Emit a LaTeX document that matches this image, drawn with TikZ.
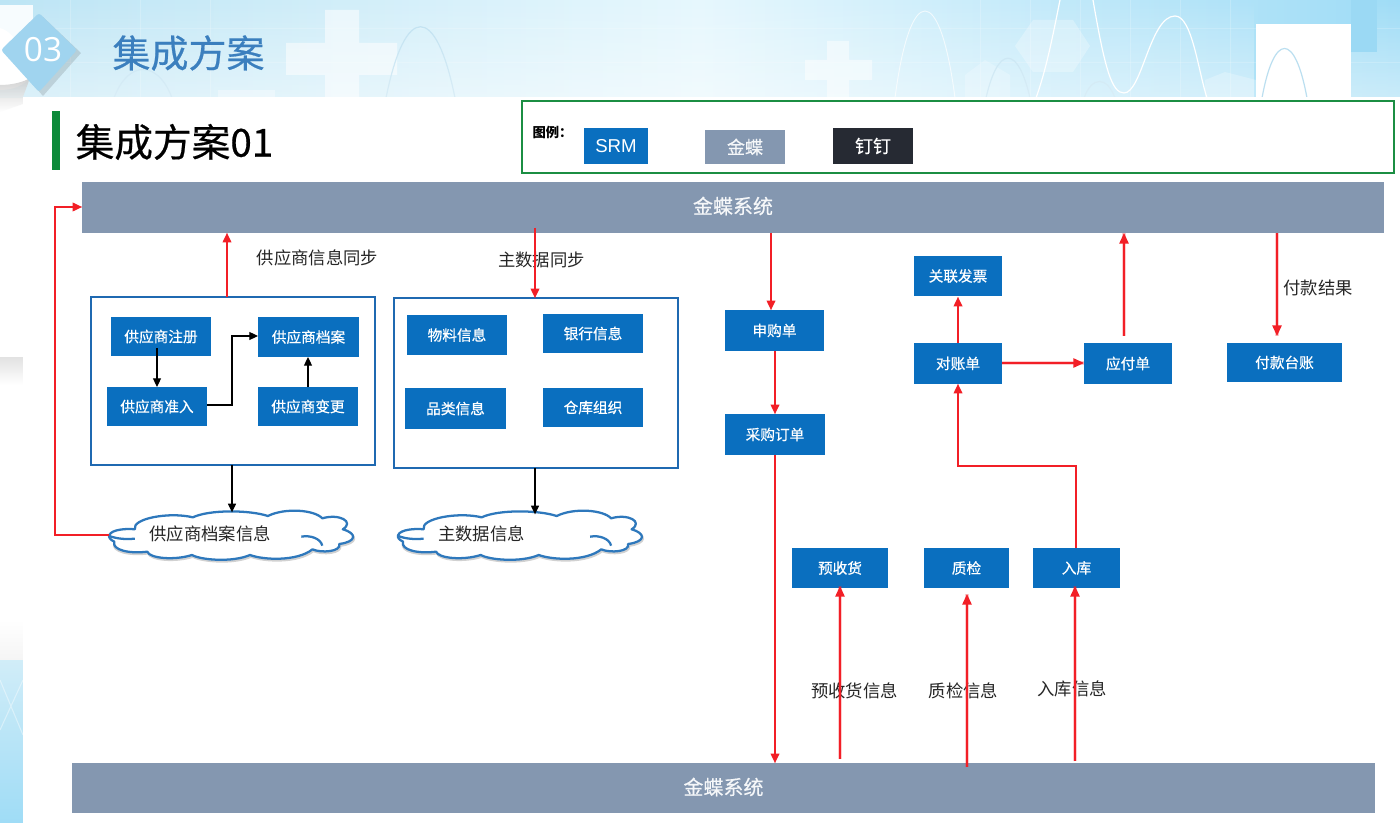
\documentclass[tikz,border=0pt]{standalone}
\usepackage{fontspec}
\setmainfont{Noto Sans CJK SC}
\newfontfamily\latinbadge{Open Sans}[NFSSFamily=ob]
\newfontfamily\latinchip{Liberation Sans}[NFSSFamily=lc]
\newfontfamily\cjkmed{Noto Sans CJK SC}[FakeBold=0.5,NFSSFamily=cm]
\usetikzlibrary{arrows.meta,calc,fadings}
\definecolor{nodeblue}{HTML}{0A6FBF}
\definecolor{barslate}{HTML}{8497B0}
\definecolor{darkchip}{HTML}{262A33}
\definecolor{framegreen}{HTML}{1B8E43}
\definecolor{accentgreen}{HTML}{0C8A3A}
\definecolor{boxblue}{HTML}{1F69B1}
\definecolor{cloudblue}{HTML}{2E78BC}
\definecolor{headblue}{HTML}{3B7FBE}
\definecolor{linered}{HTML}{F21F26}
\definecolor{skyA}{HTML}{BDE5F5}
\definecolor{skyB}{HTML}{E6F7FD}
\definecolor{skyC}{HTML}{9FDCF6}
\definecolor{skyD}{HTML}{9BD9F4}
\definecolor{diamondblue}{HTML}{A0D4EF}
\definecolor{waveblue}{HTML}{BBDFF0}
\tikzset{
  x=0.75pt,y=-0.75pt,
  chip/.style={fill=nodeblue,text=white,inner sep=0pt,outer sep=0pt,font=\fontsize{11}{13}\cjkmed},
  barbox/.style={fill=barslate,text=white!92!barslate,inner sep=0pt,outer sep=0pt,font=\fontsize{15}{18}\cjkmed},
  groupbox/.style={draw=boxblue,line width=2.2pt,fill=white,inner sep=0pt,outer sep=0pt},
  caption/.style={text=black!85,inner sep=0pt,font=\fontsize{13}{16}\selectfont},
  glow/.style={preaction={draw=linered,draw opacity=0.22,line width=#1,-}},
  redline/.style={draw=linered,line width=1.05pt,glow=2.2pt,-{Triangle[length=7pt,width=6.5pt]}},
  redthick/.style={draw=linered,line width=1.2pt,glow=3pt,-{Triangle[length=8pt,width=7pt]}},
  blackline/.style={draw=black,line width=0.85pt,-{Triangle[length=6.5pt,width=6pt]}},
  cloudedge/.style={draw=cloudblue,line width=1.7pt,fill=white,line join=round},
  curl/.style={draw=cloudblue,line width=1.7pt},
}
\newcommand{\rectnode}[7]{%
  \pgfmathsetmacro{\cxv}{(#2+#4)/2}\pgfmathsetmacro{\cyv}{(#3+#5)/2}%
  \pgfmathsetmacro{\wv}{(#4-#2)*0.75}\pgfmathsetmacro{\hv}{(#5-#3)*0.75}%
  \node[#6,minimum width=\wv pt,minimum height=\hv pt] (#1) at (\cxv,\cyv) {#7};}
\newcommand{\cloudshape}{%
  \draw[black,opacity=0.18,line width=1.8pt] (247,770) .. controls (252,753) and (287,750) .. (304,753)
    (256,790) .. controls (250,815) and (290,827) .. (332,820)
    .. controls (337,840) and (392,847) .. (432,830)
    .. controls (452,845) and (522,853) .. (562,830)
    .. controls (592,845) and (667,850) .. (702,813)
    .. controls (722,825) and (767,820) .. (762,797)
    .. controls (802,790) and (802,765) .. (770,753);
  \draw[cloudedge] (245,765) .. controls (250,748) and (285,745) .. (302,748)
    .. controls (295,715) and (380,695) .. (432,712)
    .. controls (470,688) and (560,690) .. (600,708)
    .. controls (640,682) and (705,690) .. (722,715)
    .. controls (760,700) and (795,725) .. (768,748)
    .. controls (800,760) and (800,785) .. (760,792)
    .. controls (765,815) and (720,820) .. (700,808)
    .. controls (665,845) and (590,840) .. (560,825)
    .. controls (520,848) and (450,840) .. (430,825)
    .. controls (390,842) and (335,835) .. (330,815)
    .. controls (290,822) and (250,810) .. (256,785)
    .. controls (248,780) and (242,772) .. (245,765) -- cycle;
  \draw[curl] (245,768) .. controls (265,778) and (285,778) .. (302,776);
  \draw[curl] (675,770) .. controls (695,765) and (718,775) .. (722,797);
}
\begin{document}
\begin{tikzpicture}
\useasboundingbox (0,0) rectangle (1400,823);
\fill[white] (0,0) rectangle (1400,823);
% header background
\shade[left color=skyA,right color=skyC,middle color=skyB] (0,0) rectangle (1400,98);
\foreach \gx in {70,140,210,980,1030,1080,1130,1180,1230} \draw[white,opacity=0.2,line width=0.5pt] (\gx,0) -- (\gx,98);
\foreach \gy in {28,62} \draw[white,opacity=0.18,line width=0.5pt] (0,\gy) -- (1400,\gy);
% hexagons
\fill[white,opacity=0.28] (1033,20) -- (1073,20) -- (1090,46) -- (1073,72) -- (1033,72) -- (1015,46) -- cycle;
\fill[white,opacity=0.22] (965,75) -- (985,60) -- (1010,75) -- (1010,98) -- (965,98) -- cycle;
\fill[white,opacity=0.25] (1205,98) -- (1205,80) -- (1225,72) -- (1256,80) -- (1256,98) -- cycle;
% crosses and blocks
\fill[white,opacity=0.55] (325,10) rectangle (359,98) (286,43) rectangle (325,75) (359,43) rectangle (397,75);
\fill[white,opacity=0.5] (827,41) rectangle (849,98) (805,60) rectangle (827,80) (849,60) rectangle (872,80);
\fill[white,opacity=0.35] (218,90) rectangle (275,98);
\fill[white] (1256,24) rectangle (1351,98);
% waves
\draw[waveblue,line width=0.9pt] (386,98) .. controls (405,3) and (436,3) .. (455,98);
\draw[waveblue,line width=0.9pt] (114,98) .. controls (128,60) and (158,60) .. (172,98);
\draw[waveblue,line width=0.9pt] (986,98) .. controls (998,45) and (1018,45) .. (1030,98);
\draw[waveblue,line width=0.9pt] (1084,98) .. controls (1092,76) and (1107,76) .. (1115,98);
\draw[waveblue,line width=0.9pt] (1262,98) .. controls (1274,32) and (1295,32) .. (1307,98);
\draw[white,line width=0.9pt] (1060,0) .. controls (1052,40) and (1046,70) .. (1036,98);
\draw[white,line width=0.9pt] (1093,0) .. controls (1105,70) and (1112,93) .. (1124,93) .. controls (1142,93) and (1150,16) .. (1175,16) .. controls (1192,16) and (1198,70) .. (1207,98);
\draw[white,opacity=0.7,line width=0.7pt] (895,98) .. controls (910,-18) and (940,-18) .. (955,98);
% fade lower header
\fill[white,path fading=north,fill opacity=0.45] (0,0) rectangle (1256,98);
\fill[white,path fading=north,fill opacity=0.45] (1351,0) rectangle (1400,98);
\fill[skyD] (1351,0) rectangle (1377,52);
% left strip
\shade[top color=black!11,bottom color=white] (0,358) rectangle (23,385);
\fill[white] (0,385) rectangle (23,660);
\shade[top color=white,bottom color=black!4] (0,620) rectangle (23,660);
\shade[top color=skyA!70!white,bottom color=skyC] (0,660) rectangle (23,823);
\draw[white,opacity=0.4,line width=0.8pt] (23,680) -- (0,730) (0,680) -- (23,735);
% white disc behind the badge
\fill[white!88!skyA] (0,5) rectangle (33,45);
\fill[white] (0,28) .. controls (15,32) and (28,55) .. (28,80) .. controls (20,88) and (8,90) .. (0,90) -- cycle;
\shade[top color=black!22,bottom color=white,opacity=0.8] (0,85) .. controls (12,85) and (24,82) .. (30,78) -- (23,97) -- (23,104) -- (0,112) -- cycle;
% content panel
\fill[white] (23,97) rectangle (1400,823);
% badge
\fill[black,opacity=0.12] (43,17) -- (81,53) -- (43,96) -- (5,53) -- cycle;
\fill[diamondblue,rounded corners=2pt] (39,13) -- (77,50) -- (39,92) -- (1,50) -- cycle;
\node[text=white,inner sep=0pt,font=\fontsize{25}{28}\latinbadge] (badgetext) at (43,50) {03};
\node[text=headblue,inner sep=0pt,font=\fontsize{28.5}{32}\cjkmed] (headtitle) at (188.5,53) {集成方案};
% slide title
\fill[accentgreen] (52,111) rectangle (60,170);
\node[text=black,inner sep=0pt,font=\fontsize{29}{33}\cjkmed] (slidetitle) at (174.5,142) {集成方案01};
% legend
\draw[framegreen,line width=1.2pt,fill=white] (522,101) rectangle (1394,173);
\node[text=black,inner sep=0pt,font=\fontsize{10}{12}\bfseries\selectfont] (legendhead) at (552.5,132) {图例：};
\rectnode{legsrm}{584}{128}{648}{164}{chip,font=\fontsize{14}{16}\latinchip}{SRM}
\rectnode{legjd}{705}{130}{785}{164}{barbox,font=\fontsize{13.5}{16}\cjkmed}{金蝶}
\rectnode{legdd}{833}{128}{913}{164}{fill=darkchip,text=white,inner sep=0pt,font=\fontsize{13.5}{16}\cjkmed}{钉钉}
% bars
\rectnode{bartop}{82}{182}{1384}{233}{barbox}{\phantom{x}}
\node[text=white!92!barslate,inner sep=0pt,font=\fontsize{15}{18}\cjkmed] (bartoplabel) at (733,206) {金蝶系统};
\rectnode{barbot}{72}{763}{1375}{813}{barbox}{\phantom{x}}
\node[text=white!92!barslate,inner sep=0pt,font=\fontsize{15}{18}\cjkmed] (barbotlabel) at (723.5,787) {金蝶系统};
% group boxes
\rectnode{groupa}{91}{297}{375}{465}{groupbox}{}
\rectnode{groupb}{394}{298}{678}{468}{groupbox}{}
% clouds
\begin{scope}[x=0.3348pt,y=-0.25pt,yshift=-210pt]
  \cloudshape
  \coordinate (cloudatop) at (520,697);
  \coordinate (cloudaleft) at (245,765);
\end{scope}
\begin{scope}[x=0.3348pt,y=-0.25pt,yshift=-210pt,xshift=216.6pt]
  \cloudshape
  \coordinate (cloudbtop) at (552,703);
\end{scope}
\node[caption] (cloudatext) at (210,534) {供应商档案信息};
\node[caption] (cloudbtext) at (481.5,534) {主数据信息};
% blue nodes
\rectnode{sreg}{111}{317}{211}{356}{chip}{供应商注册}
\rectnode{sadm}{107}{387}{207}{426}{chip}{供应商准入}
\rectnode{sfile}{258}{317}{359}{357}{chip}{供应商档案}
\rectnode{schg}{258}{387}{358}{426}{chip}{供应商变更}
\rectnode{mat}{407}{315}{507}{355}{chip}{物料信息}
\rectnode{bank}{543}{314}{643}{353}{chip}{银行信息}
\rectnode{cat}{405}{388}{506}{429}{chip}{品类信息}
\rectnode{wh}{543}{388}{643}{427}{chip}{仓库组织}
\rectnode{req}{725}{310}{824}{351}{chip}{申购单}
\rectnode{po}{725}{414}{825}{455}{chip}{采购订单}
\rectnode{inv}{914}{256}{1002}{296}{chip}{关联发票}
\rectnode{recon}{914}{343}{1002}{384}{chip}{对账单}
\rectnode{pay}{1084}{343}{1172}{384}{chip}{应付单}
\rectnode{ledger}{1227}{343}{1342}{382}{chip}{付款台账}
\rectnode{pre}{792}{548}{888}{588}{chip}{预收货}
\rectnode{qc}{924}{548}{1009}{588}{chip}{质检}
\rectnode{stock}{1033}{548}{1120}{588}{chip}{入库}
% captions
\node[caption] (capa) at (317.5,258) {供应商信息同步};
\node[caption] (capb) at (541.5,260) {主数据同步};
\node[caption] (capc) at (1318,288) {付款结果};
\node[caption] (capd) at (854.5,691) {预收货信息};
\node[caption] (cape) at (963.5,691) {质检信息};
\node[caption] (capf) at (1072,689) {入库信息};
% guides for connector positions
\coordinate (gxa) at (227,0);
\coordinate (gxb) at (535,0);
\coordinate (gxc) at (157,0);
\coordinate (gxd) at (308,0);
\coordinate (gxe) at (232,0);
\coordinate (gxf) at (771,0);
\coordinate (gxg) at (775,0);
\coordinate (gxh) at (958,0);
\coordinate (gxi) at (1124,0);
\coordinate (gxj) at (1277,0);
\coordinate (gxk) at (1076,0);
\coordinate (gxl) at (840,0);
\coordinate (gxm) at (967,0);
\coordinate (gxn) at (1075,0);
\coordinate (gxo) at (55,0);
\coordinate (gyh) at (0,466);
\coordinate (gyo) at (0,207);
\coordinate (gyp) at (0,405);
\coordinate (gyq) at (0,336);
\coordinate (gyr) at (0,363);
% red connectors
\draw[redline] (gxa |- groupa.north) -- (gxa |- bartop.south);
\draw[redline] ($(gxb |- bartop.south)+(0,-5)$) -- (gxb |- groupb.north);
\draw[redline] (cloudaleft) -| (gxo |- gyo) -- (bartop.west |- gyo);
\draw[redline] (gxf |- bartop.south) -- (gxf |- req.north);
\draw[redline] (gxg |- req.south) -- (gxg |- po.north);
\draw[redline] (gxg |- po.south) -- (gxg |- barbot.north);
\draw[redline] (gxh |- recon.north) -- ($(gxh |- inv.south)+(0,1)$);
\draw[redthick] (recon.east |- gyr) -- (pay.west |- gyr);
\draw[redthick] ($(gxi |- pay.north)+(0,-7)$) -- (gxi |- bartop.south);
\draw[redthick] (gxj |- bartop.south) -- ($(gxj |- ledger.north)+(0,-7)$);
\draw[redline] (gxk |- stock.north) -- (gxk |- gyh) -- (gxh |- gyh) -- (gxh |- recon.south);
\draw[redthick] ($(gxl |- barbot.north)+(0,-4)$) -- ($(gxl |- pre.south)+(0,-2)$);
\draw[redthick] ($(gxm |- barbot.north)+(0,4)$) -- ($(gxm |- qc.south)+(0,6)$);
\draw[redthick] ($(gxn |- barbot.north)+(0,-2)$) -- ($(gxn |- stock.south)+(0,-2)$);
% black connectors
\draw[blackline] ($(gxc |- sreg.south)+(0,-8)$) -- (gxc |- sadm.north);
\draw[blackline] (sadm.east |- gyp) -- (gxe |- gyp) -- (gxe |- gyq) -- (sfile.west |- gyq);
\draw[blackline] (gxd |- schg.north) -- (gxd |- sfile.south);
\draw[blackline] (gxe |- groupa.south) -- (gxe |- cloudatop);
\draw[blackline] (gxb |- groupb.south) -- (gxb |- cloudbtop);
\end{tikzpicture}
\end{document}
